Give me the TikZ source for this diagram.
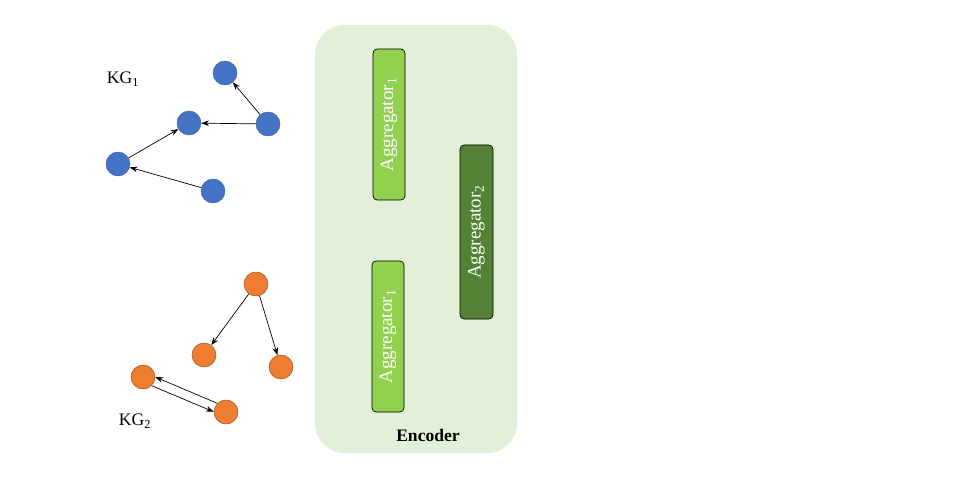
\documentclass[tikz,border=0pt]{standalone}
\usepackage{fontspec}
\setmainfont{Liberation Serif}
\usetikzlibrary{arrows.meta,positioning}
\definecolor{kgblue}{HTML}{4472C4}
\definecolor{kgorange}{HTML}{ED7D31}
\definecolor{encgreen}{HTML}{E2EFD9}
\definecolor{aggone}{HTML}{92D050}
\definecolor{aggtwo}{HTML}{548235}

\begin{document}
\begin{tikzpicture}[x=0.025cm,y=-0.025cm,
  font=\fontsize{12.5}{15}\selectfont,
  >={Stealth[length=5.5pt,width=4pt]},
  blueent/.style={circle,fill=kgblue,draw=kgblue!85!black,line width=0.3pt,minimum size=0.6cm,inner sep=0pt},
  orangeent/.style={circle,fill=kgorange,draw=kgorange!70!black,line width=0.4pt,minimum size=0.6cm,inner sep=0pt},
  aggbox/.style={rectangle,rounded corners=3pt,draw=black,line width=0.5pt,text=white,rotate=90,inner sep=0pt,font=\fontsize{13.5}{16}\selectfont},
  kgedge/.style={->,line width=0.5pt}]
\useasboundingbox (0,0) rectangle (960,480);

% encoder background
\node[fill=encgreen,rounded corners=0.75cm,minimum width=5.05cm,minimum height=10.7cm] (encoder) at (416,239) {};
\node[font=\fontsize{12.5}{15}\selectfont\bfseries] (enc_label) at (428,435) {Encoder};

\node[aggbox,fill=aggone,minimum width=3.775cm,minimum height=0.8cm] (agg_1a) at (389,124.5) {Aggregator\textsubscript{1}};
\node[aggbox,fill=aggone,minimum width=3.775cm,minimum height=0.8cm] (agg_1b) at (388,336.5) {Aggregator\textsubscript{1}};
\node[aggbox,fill=aggtwo,minimum width=4.35cm,minimum height=0.825cm] (agg_2) at (476.5,232) {Aggregator\textsubscript{2}};

% KG1
\node (kg_1) at (123,79) {KG\textsubscript{1}};
\node[blueent] (b_a) at (225,73) {};
\node[blueent] (b_b) at (268,124) {};
\node[blueent] (b_c) at (189,123) {};
\node[blueent] (b_d) at (118,164) {};
\node[blueent] (b_e) at (213,191) {};

% KG2
\node (kg_2) at (135,421) {KG\textsubscript{2}};
\node[orangeent] (o_a) at (256,284) {};
\node[orangeent] (o_b) at (204,355) {};
\node[orangeent] (o_c) at (281,367) {};
\node[orangeent] (o_d) at (143,377) {};
\node[orangeent] (o_e) at (226,412) {};

\path[kgedge]
(b_b) edge (b_a)
(b_b) edge (b_c)
(b_d) edge (b_c)
(b_e) edge (b_d)

(o_a) edge (o_b)
(o_a) edge (o_c)
(o_e.135) edge (o_d.0)
(o_d.-45) edge (o_e.179)
; %end path
\end{tikzpicture}
\end{document}
